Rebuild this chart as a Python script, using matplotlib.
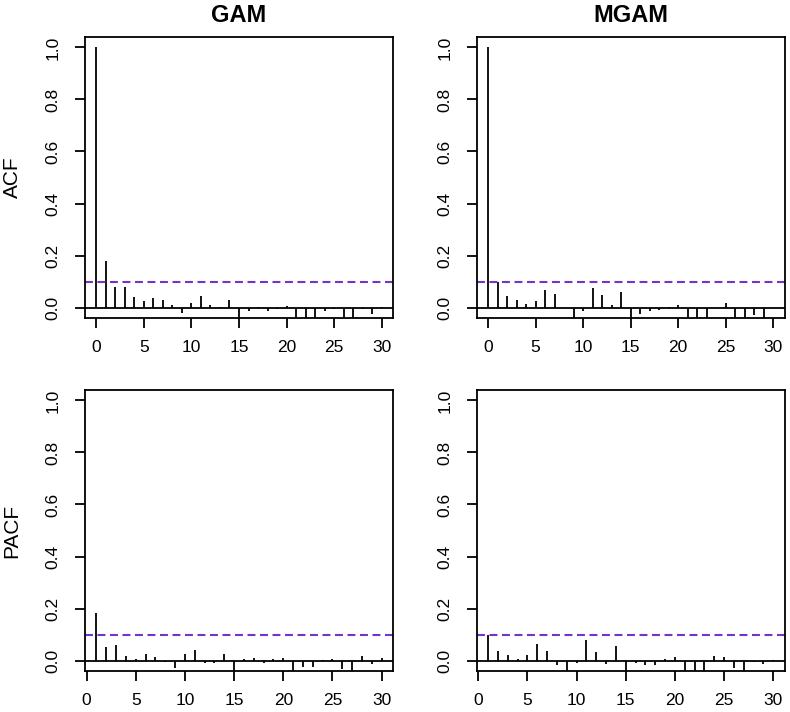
import matplotlib
matplotlib.use("Agg")
import matplotlib.pyplot as plt

plt.rcParams['font.family'] = ['Liberation Sans', 'DejaVu Sans']

# Data
acf_lags = list(range(0, 31))
pacf_lags = list(range(1, 31))

gam_acf = [1.0, 0.18, 0.081, 0.078, 0.042, 0.026, 0.036, 0.028, 0.010, -0.019,
           0.019, 0.043, 0.009, 0.003, 0.028, -0.06, -0.015, 0.004, -0.012, -0.004,
           0.006, -0.06, -0.06, -0.06, -0.015, -0.006, -0.06, -0.06, -0.004, -0.026,
           0.001]
mgam_acf = [1.0, 0.098, 0.046, 0.029, 0.013, 0.024, 0.068, 0.051, -0.003, -0.06,
            -0.014, 0.075, 0.047, 0.010, 0.060, -0.06, -0.023, -0.014, -0.010, 0.004,
            0.009, -0.06, -0.06, -0.06, -0.003, 0.017, -0.06, -0.06, -0.028, -0.06,
            -0.003]
gam_pacf = [0.183, 0.053, 0.060, 0.019, 0.008, 0.026, 0.015, -0.004, -0.028, 0.026,
            0.040, -0.008, -0.009, 0.027, -0.06, 0.006, 0.010, -0.009, 0.006, 0.010,
            -0.06, -0.026, -0.026, 0.003, 0.008, -0.031, -0.06, 0.019, -0.014, 0.010]
mgam_pacf = [0.098, 0.038, 0.023, 0.006, 0.022, 0.064, 0.038, -0.018, -0.06, -0.009,
             0.079, 0.032, -0.012, 0.055, -0.06, -0.010, -0.018, -0.017, 0.006, 0.013,
             -0.06, -0.06, -0.06, 0.019, 0.014, -0.028, -0.06, -0.004, -0.014, 0.001]

ci_level = 0.099
col_titles = ["GAM", "MGAM"]
row_labels = ["ACF", "PACF"]
x_ticks = [0, 5, 10, 15, 20, 25, 30]
y_ticks = [0.0, 0.2, 0.4, 0.6, 0.8, 1.0]

W, H = 790, 712
fig = plt.figure(figsize=(W / 100, H / 100), dpi=100)

lefts = [85, 476.7]
tops = [37, 390]
aw, ah = 308, 281

panels = [[(acf_lags, gam_acf), (acf_lags, mgam_acf)],
          [(pacf_lags, gam_pacf), (pacf_lags, mgam_pacf)]]

lw = 1.3
for r in range(2):
    for c in range(2):
        ax = fig.add_axes([lefts[c] / W, 1 - (tops[r] + ah) / H, aw / W, ah / H])
        lags, vals = panels[r][c]
        ax.vlines(lags, 0, vals, color='black', linewidth=lw)
        ax.axhline(0, color='black', linewidth=lw)
        ax.axhline(ci_level, color='#7036C8', linewidth=1.5, linestyle=(0, (3.8, 2.2)))
        n0, n1 = lags[0], lags[-1]
        ext = 0.04 * (n1 - n0)
        ax.set_xlim(n0 - ext, n1 + ext)
        ax.set_ylim(-0.04, 1.04)
        ax.set_xticks(x_ticks)
        ax.set_xticklabels([str(t) for t in x_ticks])
        ax.set_yticks(y_ticks)
        ax.set_yticklabels([f"{t:.1f}" for t in y_ticks])
        ax.tick_params(axis='both', direction='out', length=7.5, width=lw,
                       labelsize=12.5, colors='black')
        ax.tick_params(axis='x', pad=8)
        ax.tick_params(axis='y', pad=10, labelrotation=90)
        for lab in ax.get_yticklabels():
            lab.set_va('center')
        for sp in ax.spines.values():
            sp.set_linewidth(lw)
            sp.set_color('black')
        if r == 0:
            ax.set_title(col_titles[c], fontsize=17, fontweight='bold', pad=11)

# Row labels
for r in range(2):
    yc = 1 - (tops[r] + ah / 2) / H
    fig.text(12 / W, yc, row_labels[r], rotation=90, fontsize=15,
             ha='center', va='center')

fig.savefig("out.png", dpi=100)
